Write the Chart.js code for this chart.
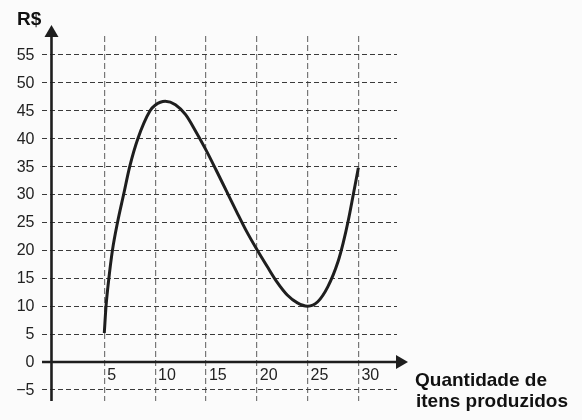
<!DOCTYPE html>
<html lang="pt">
<head>
	<meta charset="UTF-8">
	<title>Quantidade de itens produzidos</title>
	<script src="https://cdn.jsdelivr.net/npm/chart.js"></script>
	<style>
		body {
			margin: 0;
			background-color: #fbfbfb;
		}

		#wrap {
			width: 582px;
			height: 420px;
			position: relative;
		}
	</style>
</head>
<body>
<div id="wrap"><canvas id="grafico"></canvas></div>

<script>
	// pontos
	const itens = [5, 5.17, 5.45, 5.8, 6.3, 6.9, 7.5, 8.3, 9.5, 10, 11, 12, 13, 14, 15, 16, 17, 18, 19, 20, 21, 22, 23, 24, 25, 26, 27, 28, 28.5, 29, 29.5, 30];
	const reais = [5.2, 10, 15, 20, 25, 30, 35, 40, 45, 46, 46.7, 46.1, 44.3, 41.3, 38, 34.4, 30.7, 27, 23.4, 20.2, 17.2, 14.3, 12, 10.6, 10, 10.8, 13.5, 18, 21.3, 25.3, 30, 34.8];

	const xTicks = [5, 10, 15, 20, 25, 30];
	const yTicks = [-5, 0, 5, 10, 15, 20, 25, 30, 35, 40, 45, 50, 55];
	const yTickLabels = ['−5', '0', '5', '10', '15', '20', '25', '30', '35', '40', '45', '50', '55'];

	const tituloY = 'R$';
	const tituloX = ['Quantidade de', 'itens produzidos'];

	const tinta = '#1e1e1e';

	// eixos com setas, rótulos e títulos
	const eixos = {
		id: 'eixos',
		afterDraw(chart) {
			const ctx = chart.ctx;
			const xs = chart.scales.x, ys = chart.scales.y;
			const area = chart.chartArea;
			const x0 = xs.getPixelForValue(0) - 2;
			const y0 = ys.getPixelForValue(0);

			ctx.save();
			ctx.strokeStyle = tinta;
			ctx.fillStyle = tinta;
			ctx.lineWidth = 2.6;

			// eixo y
			ctx.beginPath();
			ctx.moveTo(x0, area.bottom);
			ctx.lineTo(x0, area.top);
			ctx.stroke();
			ctx.beginPath();
			ctx.moveTo(x0, area.top - 11);
			ctx.lineTo(x0 - 7, area.top + 1);
			ctx.lineTo(x0 + 7, area.top + 1);
			ctx.closePath();
			ctx.fill();

			// eixo x
			ctx.beginPath();
			ctx.moveTo(area.left, y0);
			ctx.lineTo(area.right, y0);
			ctx.stroke();
			ctx.beginPath();
			ctx.moveTo(area.right + 11, y0);
			ctx.lineTo(area.right - 1, y0 - 7);
			ctx.lineTo(area.right - 1, y0 + 7);
			ctx.closePath();
			ctx.fill();

			// rótulos
			ctx.font = '16px "Liberation Sans", Arial, sans-serif';
			ctx.fillStyle = '#222';
			ctx.textAlign = 'right';
			ctx.textBaseline = 'middle';
			yTicks.forEach((v, i) => {
				ctx.fillText(yTickLabels[i], x0 - 17, ys.getPixelForValue(v) + 0.5);
			});
			ctx.textAlign = 'left';
			ctx.textBaseline = 'top';
			xTicks.forEach(v => {
				ctx.fillText(String(v), xs.getPixelForValue(v) + 3, y0 + 6);
			});

			// títulos
			ctx.font = 'bold 19px "Liberation Sans", Arial, sans-serif';
			ctx.fillStyle = '#111';
			ctx.textAlign = 'left';
			ctx.textBaseline = 'alphabetic';
			ctx.fillText(tituloY, 17, 25);
			ctx.fillText(tituloX[0], 415, 386);
			ctx.fillText(tituloX[1], 416, 407);
			ctx.restore();
		}
	};

	new Chart(document.getElementById('grafico'), {
		type: 'line',
		data: {
			datasets: [{
				data: itens.map((x, i) => ({ x: x, y: reais[i] })),
				borderColor: tinta,
				borderWidth: 3,
				pointRadius: 0,
				fill: false,
				cubicInterpolationMode: 'monotone'
			}]
		},
		options: {
			responsive: true,
			maintainAspectRatio: false,
			animation: false,
			layout: {
				padding: { left: 42, right: 185, top: 36, bottom: 19 }
			},
			plugins: {
				legend: { display: false },
				tooltip: { enabled: false }
			},
			scales: {
				x: {
					type: 'linear',
					min: -1.13,
					max: 33.8,
					afterBuildTicks: s => { s.ticks = xTicks.map(v => ({ value: v })); },
					ticks: { display: false },
					grid: { color: '#777', lineWidth: 1.2, drawTicks: false },
					border: { display: false, dash: [6, 3] }
				},
				y: {
					type: 'linear',
					min: -6.98,
					max: 58.4,
					afterBuildTicks: s => { s.ticks = yTicks.filter(v => v !== 0).map(v => ({ value: v })); },
					ticks: { display: false },
					grid: { color: '#3a3a3a', lineWidth: 1.1, drawTicks: false },
					border: { display: false, dash: [5, 3] }
				}
			}
		},
		plugins: [eixos]
	});
</script>
</body>
</html>
